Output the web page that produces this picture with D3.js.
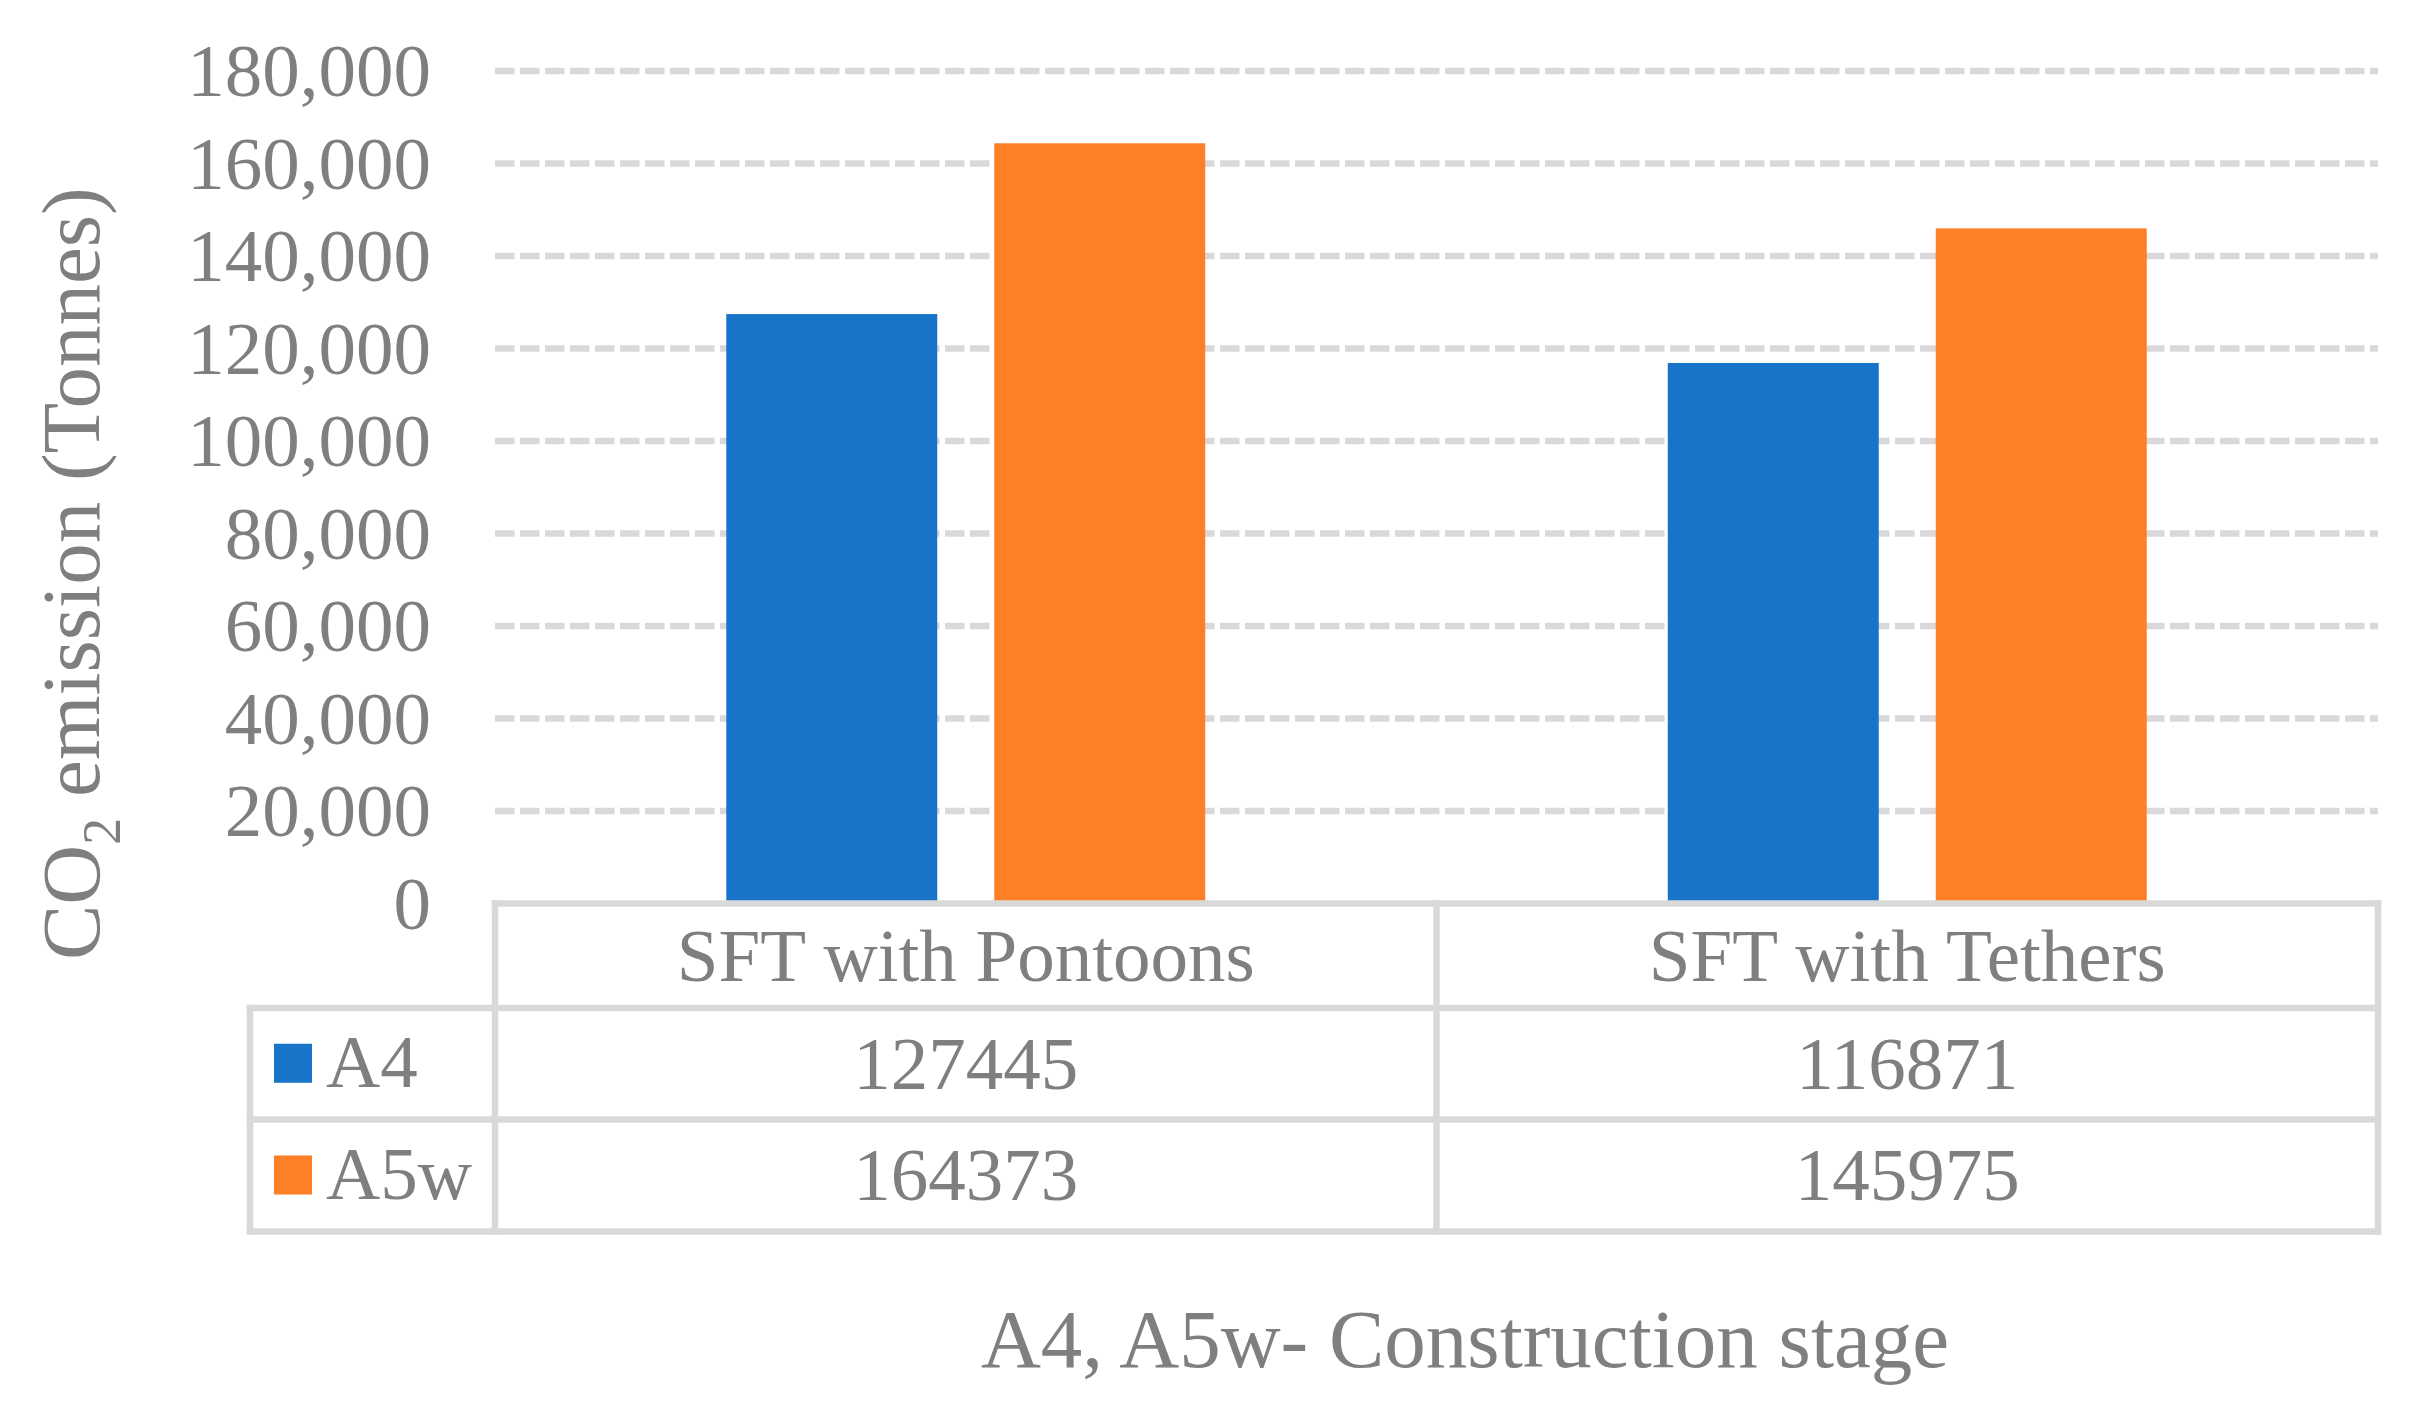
<!DOCTYPE html>
<html>
<head>
<meta charset="utf-8">
<script src="https://cdn.jsdelivr.net/npm/d3@7"></script>
<style>
  html, body { margin: 0; padding: 0; background: #ffffff; }
  svg { display: block; }
  text { font-family: "Liberation Serif", "Times New Roman", serif; fill: #7f7f7f; }
</style>
</head>
<body>
<svg id="chart" width="2420" height="1421"></svg>
<script>
// ---- data ----
const categories = ["SFT with Pontoons", "SFT with Tethers"];
const seriesNames = ["A4", "A5w"];
const seriesA4 = [127445, 116871];
const seriesA5w = [164373, 145975];
const seriesColors = ["#1874c9", "#ff7f27"];
const yTicks = [0, 20000, 40000, 60000, 80000, 100000, 120000, 140000, 160000, 180000];
const yTitle = ["CO", "2", " emission (Tonnes)"];
const xTitle = "A4, A5w- Construction stage";

const seriesValues = [seriesA4, seriesA5w];

// ---- layout ----
const W = 2420, H = 1421;
const plotLeft = 495, plotRight = 2378, plotTop = 71, plotBottom = 903.5;
const tableLeft = 250;
const rowLines = [plotBottom, 1008, 1119.5, 1231.5];
const gridColor = "#d9d9d9";
const lineW = 6.5;
const fs = 75;

const svg = d3.select("#chart");

const x = d3.scaleBand().domain(categories).range([plotLeft, plotRight]).paddingInner(0).paddingOuter(0);
const xs = d3.scaleBand().domain(seriesNames).range([0, x.bandwidth()]).paddingInner(0.2127).paddingOuter(0.863);
const y = d3.scaleLinear().domain([0, 180000]).range([plotBottom, plotTop]);

// gridlines
svg.append("g").selectAll("line")
  .data(yTicks.filter(d => d > 0))
  .join("line")
  .attr("x1", plotLeft).attr("x2", plotRight)
  .attr("y1", d => y(d)).attr("y2", d => y(d))
  .attr("stroke", gridColor)
  .attr("stroke-width", lineW)
  .attr("stroke-dasharray", "19.5,5.5");

// y tick labels
const fmt = d3.format(",");
svg.append("g").selectAll("text")
  .data(yTicks)
  .join("text")
  .attr("x", 431)
  .attr("y", d => y(d) + fs * 0.338)
  .attr("text-anchor", "end")
  .attr("font-size", fs)
  .text(d => fmt(d));

// bars
const barData = [];
categories.forEach((c, ci) => {
  seriesNames.forEach((s, si) => {
    barData.push({ cat: c, ser: s, v: seriesValues[si][ci], color: seriesColors[si] });
  });
});
svg.append("g").selectAll("rect")
  .data(barData)
  .join("rect")
  .attr("x", d => x(d.cat) + xs(d.ser))
  .attr("width", xs.bandwidth())
  .attr("y", d => y(d.v))
  .attr("height", d => y(0) - y(d.v))
  .attr("fill", d => d.color);

// data table
const tg = svg.append("g")
  .attr("stroke", gridColor)
  .attr("stroke-width", lineW)
  .attr("stroke-linecap", "square");
// top line of header
tg.append("line").attr("x1", plotLeft).attr("x2", plotRight).attr("y1", rowLines[0]).attr("y2", rowLines[0]);
// other horizontal lines
rowLines.slice(1).forEach(yy => {
  tg.append("line").attr("x1", tableLeft).attr("x2", plotRight).attr("y1", yy).attr("y2", yy);
});
// vertical lines
tg.append("line").attr("x1", tableLeft).attr("x2", tableLeft).attr("y1", rowLines[1]).attr("y2", rowLines[3]);
const vx = [plotLeft].concat(categories.map(c => x(c) + x.bandwidth()));
vx.forEach(xx => {
  tg.append("line").attr("x1", xx).attr("x2", xx).attr("y1", rowLines[0]).attr("y2", rowLines[3]);
});

// header labels
svg.append("g").selectAll("text")
  .data(categories)
  .join("text")
  .attr("x", d => x(d) + x.bandwidth() / 2)
  .attr("y", (rowLines[0] + rowLines[1]) / 2 + fs * 0.33)
  .attr("text-anchor", "middle")
  .attr("font-size", fs)
  .text(d => d);

// values
seriesNames.forEach((s, si) => {
  const rowMid = (rowLines[si + 1] + rowLines[si + 2]) / 2;
  svg.append("g").selectAll("text")
    .data(categories)
    .join("text")
    .attr("x", d => x(d) + x.bandwidth() / 2)
    .attr("y", rowMid + fs * 0.33)
    .attr("text-anchor", "middle")
    .attr("font-size", fs)
    .text((d, ci) => String(seriesValues[si][ci]));
  // legend key
  svg.append("rect")
    .attr("x", 274).attr("y", rowMid - 20)
    .attr("width", 38).attr("height", 39)
    .attr("fill", seriesColors[si]);
  svg.append("text")
    .attr("x", 326)
    .attr("y", rowMid + fs * 0.31)
    .attr("font-size", fs)
    .text(s);
});

// y axis title
const yt = svg.append("text")
  .attr("transform", "translate(99,960) rotate(-90)")
  .attr("font-size", 83);
yt.append("tspan").text(yTitle[0]);
yt.append("tspan").attr("font-size", 54).attr("dy", 21).text(yTitle[1]);
yt.append("tspan").attr("dy", -21).text(yTitle[2]);

// x axis title
svg.append("text")
  .attr("x", 1465)
  .attr("y", 1367)
  .attr("text-anchor", "middle")
  .attr("font-size", 83)
  .text(xTitle);
</script>
</body>
</html>
